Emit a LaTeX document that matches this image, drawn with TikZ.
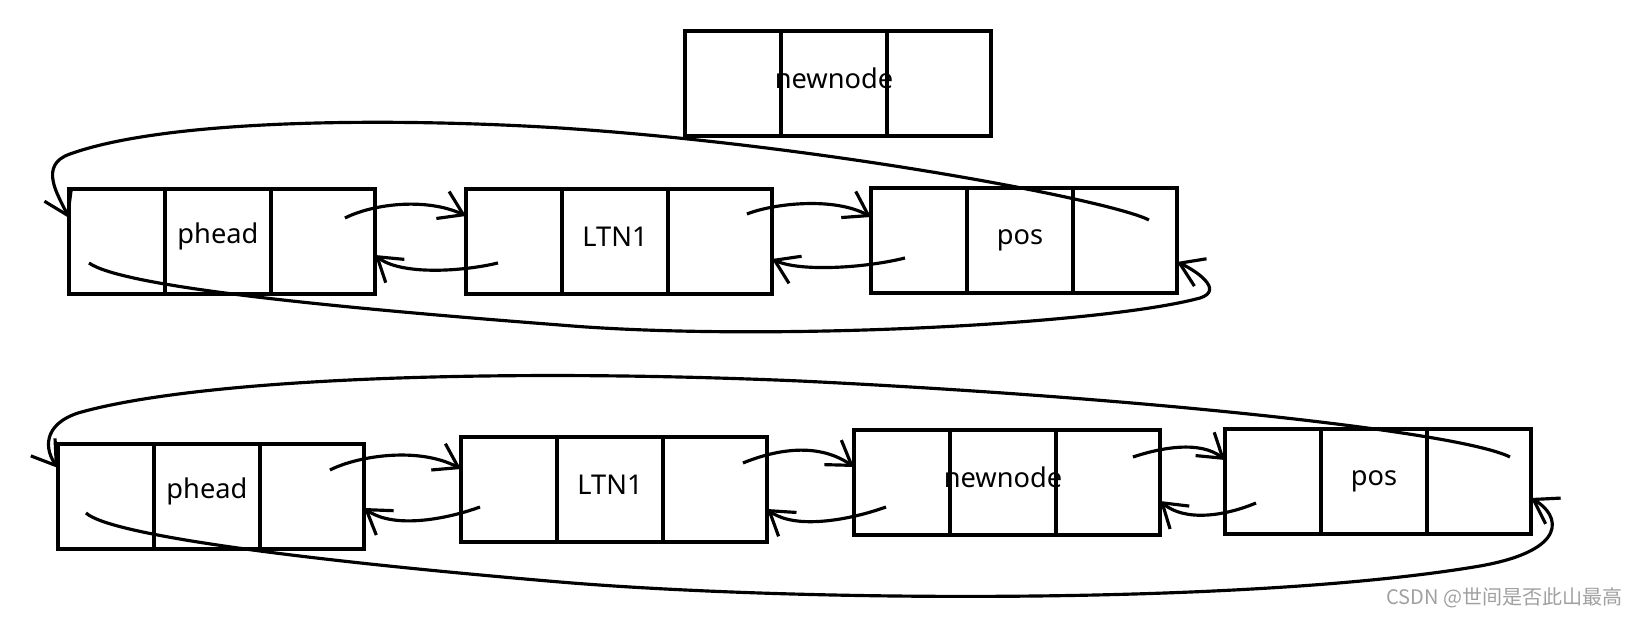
\documentclass[tikz,border=0pt]{standalone}
\usepackage{fontspec}
\setmainfont{Noto Sans}
\newfontfamily\cjk{Noto Sans CJK SC}
\usepackage{tikz}
\usetikzlibrary{arrows.meta, positioning, calc}
\definecolor{markgray}{RGB}{160,160,160}

\begin{document}
\begin{tikzpicture}[
  x=0.02cm, y=-0.02cm,
  cell/.style={rectangle, draw, line width=2pt, minimum width=#1, minimum height=2.1cm, inner sep=0pt, outer sep=0pt},
  cell/.default=1.92cm,
  cellname/.style={font=\fontsize{15.5}{18}\selectfont, inner sep=0pt, yshift=0.1cm},
  arrow/.style={-{Straight Barb[length=13pt, width=17pt]}, line width=1.8pt}
]
\useasboundingbox (0,0) rectangle (1638,618);

% new node on top
\node[cell, anchor=north west] (n0a) at (685,31) {};
\node[cell=2.12cm, right=0pt of n0a] (n0b) {};
\node[cell=2.08cm, right=0pt of n0b] (n0c) {};
\node[cellname] (n0t) at (n0b) {newnode};

% first list
\node[cell, anchor=north west] (h1a) at (69,189) {};
\node[cell=2.12cm, right=0pt of h1a] (h1b) {};
\node[cell=2.08cm, right=0pt of h1b] (h1c) {};
\node[cellname] (h1t) at (h1b) {phead};

\node[cell, anchor=north west] (l1a) at (466,189) {};
\node[cell=2.12cm, right=0pt of l1a] (l1b) {};
\node[cell=2.08cm, right=0pt of l1b] (l1c) {};
\node[cellname] (l1t) at (l1b) {LTN1};

\node[cell, anchor=north west] (p1a) at (871,188) {};
\node[cell=2.12cm, right=0pt of p1a] (p1b) {};
\node[cell=2.08cm, right=0pt of p1b] (p1c) {};
\node[cellname, yshift=-0.1cm] (p1t) at (p1b) {pos};

% second list
\node[cell, anchor=north west] (h2a) at (58,444) {};
\node[cell=2.12cm, right=0pt of h2a] (h2b) {};
\node[cell=2.08cm, right=0pt of h2b] (h2c) {};
\node[cellname] (h2t) at (h2b) {phead};

\node[cell, anchor=north west] (l2a) at (461,437) {};
\node[cell=2.12cm, right=0pt of l2a] (l2b) {};
\node[cell=2.08cm, right=0pt of l2b] (l2c) {};
\node[cellname] (l2t) at (l2b) {LTN1};

\node[cell, anchor=north west] (n2a) at (854,430) {};
\node[cell=2.12cm, right=0pt of n2a] (n2b) {};
\node[cell=2.08cm, right=0pt of n2b] (n2c) {};
\node[cellname] (n2t) at (n2b) {newnode};

\node[cell, anchor=north west] (p2a) at (1225,429) {};
\node[cell=2.12cm, right=0pt of p2a] (p2b) {};
\node[cell=2.08cm, right=0pt of p2b] (p2c) {};
\node[cellname, yshift=-0.1cm] (p2t) at (p2b) {pos};

% links of the first list
\draw[arrow] ($(h1c.center)+(22,-23.5)$) .. controls (375,203) and (428,198) .. ($(l1a.west)+(0,-25.5)$);
\draw[arrow] ($(l1a.center)+(-16,21.5)$) .. controls (460,272) and (400,275) .. ($(h1c.east)+(0,13.5)$);
\draw[arrow] ($(l1c.center)+(27,-27.5)$) .. controls (775,203) and (835,197) .. ($(p1a.west)+(0,-23.5)$);
\draw[arrow] ($(p1a.center)+(-14,17.5)$) .. controls (865,268) and (800,272) .. ($(l1c.east)+(0,17.5)$);
\draw[arrow] ($(p1c.center)+(24,-20.5)$) .. controls (1110,200) and (820,145) .. (560,128)
  .. controls (400,118) and (170,118) .. (70,154)
  .. controls (38,165) and (58,195) .. ($(h1a.west)+(0,-23.5)$);
\draw[arrow] ($(h1a.center)+(-28,21.5)$) .. controls (120,285) and (300,305) .. (560,325)
  .. controls (760,342) and (1100,325) .. (1200,298)
  .. controls (1225,290) and (1195,270) .. ($(p1c.east)+(0,21.5)$);

% links of the second list
\draw[arrow] ($(h2c.center)+(18,-26.5)$) .. controls (360,455) and (420,447) .. ($(l2a.west)+(0,-20.5)$);
\draw[arrow] ($(l2a.center)+(-29,17.5)$) .. controls (450,518) and (395,530) .. ($(h2c.east)+(0,11.5)$);
\draw[arrow] ($(l2c.center)+(28,-26.5)$) .. controls (770,452) and (815,440) .. ($(n2a.west)+(0,-15.5)$);
\draw[arrow] ($(n2a.center)+(-16,24.5)$) .. controls (850,520) and (795,530) .. ($(l2c.east)+(0,19.5)$);
\draw[arrow] ($(n2c.center)+(25,-25.5)$) .. controls (1160,448) and (1200,440) .. ($(p2a.west)+(0,-21.5)$);
\draw[arrow] ($(p2a.center)+(-17,21.5)$) .. controls (1225,516) and (1185,522) .. ($(n2c.east)+(0,18.5)$);
\draw[arrow] ($(p2c.center)+(31,-24.5)$) .. controls (1460,432) and (1150,398) .. (800,381)
  .. controls (500,368) and (200,378) .. (78,413)
  .. controls (42,425) and (45,450) .. ($(h2a.west)+(0,-28.5)$);
\draw[arrow] ($(h2a.center)+(-20,16.5)$) .. controls (110,535) and (300,560) .. (560,582)
  .. controls (800,602) and (1250,605) .. (1480,566)
  .. controls (1570,550) and (1560,515) .. ($(p2c.east)+(0,16.5)$);

\node[font=\cjk\fontsize{11.4}{13}\selectfont, text=markgray, anchor=east, inner sep=0pt] (mark) at (1623,598) {CSDN @世间是否此山最高};

\end{tikzpicture}
\end{document}
